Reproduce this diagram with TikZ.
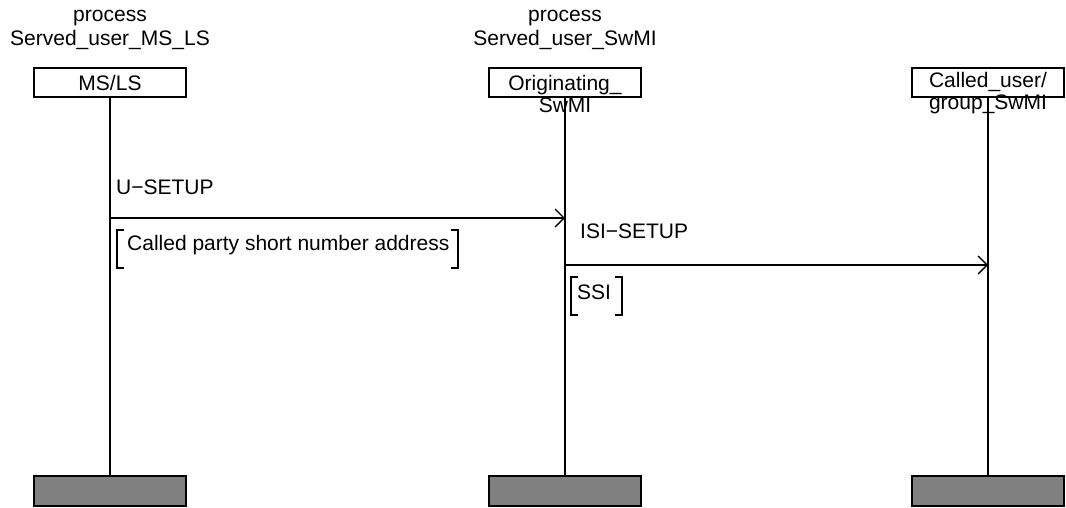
\documentclass[tikz,border=0pt]{standalone}
\usepackage{fontspec}
\setmainfont{Liberation Sans}
\usetikzlibrary{arrows.meta}
\begin{document}
\begin{tikzpicture}[x=1pt,y=-1pt,
  every node/.style={font=\fontsize{21}{24}\selectfont, inner sep=0pt},
  headbox/.style={draw, line width=1.6pt, minimum width=152pt, minimum height=29pt},
  endbox/.style={draw, line width=1.6pt, fill=black!50, minimum width=152pt, minimum height=30pt},
  life/.style={line width=1.6pt},
  msg/.style={line width=1.6pt, -{Straight Barb[length=9pt,width=18pt,line width=1.4pt]}},
  brk/.style={line width=1.6pt},
  title/.style={align=center, font=\fontsize{21}{24}\selectfont},
  boxtext/.style={align=center, font=\fontsize{21}{22}\selectfont}
]
\useasboundingbox (0,0) rectangle (1066,507);
% titles
\node[title] (t1) at (110,30) {process\\Served\_user\_MS\_LS};
\node[title] (t2) at (565,30) {process\\Served\_user\_SwMI};
% head boxes
\node[headbox] (h1) at (110,82.5) {};
\node[headbox] (h2) at (565,82.5) {};
\node[headbox] (h3) at (988,82.5) {};
\node[boxtext] (l1) at (110,82.5) {MS/LS};
\node[boxtext] (l2) at (565,93.5) {Originating\_\\SwMI};
\node[boxtext] (l3) at (988,93.5) {Called\_user/\\group\_SwMI};
% end boxes
\node[endbox] (e1) at (110,491) {};
\node[endbox] (e2) at (565,491) {};
\node[endbox] (e3) at (988,491) {};
% lifelines
\draw[life] (h1.south) -- (e1.north);
\draw[life] (h2.south) -- (e2.north);
\draw[life] (h3.south) -- (e3.north);
% messages
\coordinate (m1s) at (110,218);
\coordinate (m1e) at (565,218);
\coordinate (m2s) at (565,265);
\coordinate (m2e) at (988,265);
\draw[msg] (m1s) -- (m1e);
\draw[msg] (m2s) -- (m2e);
\node[anchor=west] (u) at (116,187) {U−SETUP};
\node[anchor=west] (isi) at (580,231) {ISI−SETUP};
% bracket 1
\node[anchor=west] (p1) at (127,245) {Called party short number address};
\draw[brk] (124,230) -- (117,230) -- (117,268) -- (124,268);
\draw[brk] (451,230) -- (458,230) -- (458,268) -- (451,268);
% bracket 2
\node[anchor=west] (p2) at (577,292) {SSI};
\draw[brk] (578,277) -- (571,277) -- (571,315) -- (578,315);
\draw[brk] (615,277) -- (622,277) -- (622,315) -- (615,315);
\end{tikzpicture}
\end{document}
